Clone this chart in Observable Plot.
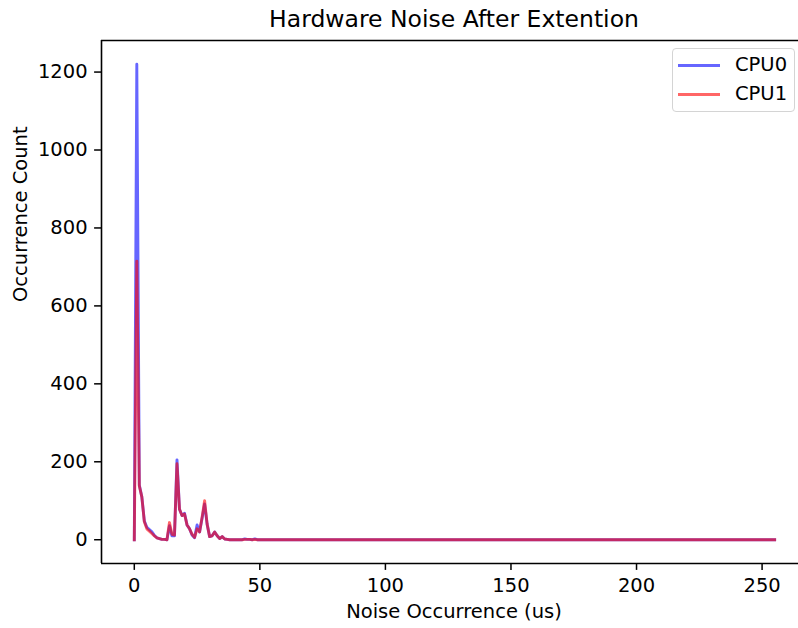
<!DOCTYPE html>
<html>
<head>
<meta charset="utf-8">
<script src="https://cdn.jsdelivr.net/npm/d3@7"></script>
<script src="https://cdn.jsdelivr.net/npm/@observablehq/plot@0.6"></script>
<style>
  html, body { margin: 0; padding: 0; background: #fff; overflow: hidden; }
  #wrap { position: relative; width: 798px; height: 628px; font-family: "DejaVu Sans", sans-serif; }
  #chart svg g[aria-label$="tick"] { stroke-width: 1.5px; }
  #legend { position: absolute; left: 672px; top: 48px; width: 123px; height: 64px; border: 1px solid #d4d4d4; border-radius: 4px; background: rgba(255,255,255,0.8); box-sizing: border-box; }
  .lg-row { position: absolute; left: 0; height: 24px; width: 120px; }
  .lg-line { position: absolute; left: 5px; width: 42px; height: 3px; top: 10.5px; }
  .lg-text { position: absolute; left: 62px; top: 0; font-size: 19.5px; line-height: 24px; color: #000; }
</style>
</head>
<body>
<div id="wrap"><div id="chart"></div><div id="legend"></div></div>
<script>
// Occurrence counts per 1-us bin (bin index = Noise Occurrence in us)
const cpu0 = [
  0,1220,140,110,48,32,26,20,11,5,3,1,1,0,36,10,
  10,205,78,62,68,38,28,12,5,38,20,55,92,40,8,10,
  20,10,3,8,2,1,0,0,0,0,0,0,2,1,1,0,
  2,0,0,0,0,0,0,0,0,0,0,0,0,0,0,0,
  0,0,0,0,0,0,0,0,0,0,0,0,0,0,0,0,
  0,0,0,0,0,0,0,0,0,0,0,0,0,0,0,0,
  0,0,0,0,0,0,0,0,0,0,0,0,0,0,0,0,
  0,0,0,0,0,0,0,0,0,0,0,0,0,0,0,0,
  0,0,0,0,0,0,0,0,0,0,0,0,0,0,0,0,
  0,0,0,0,0,0,0,0,0,0,0,0,0,0,0,0,
  0,0,0,0,0,0,0,0,0,0,0,0,0,0,0,0,
  0,0,0,0,0,0,0,0,0,0,0,0,0,0,0,0,
  0,0,0,0,0,0,0,0,0,0,0,0,0,0,0,0,
  0,0,0,0,0,0,0,0,0,0,0,0,0,0,0,0,
  0,0,0,0,0,0,0,0,0,0,0,0,0,0,0,0,
  0,0,0,0,0,0,0,0,0,0,0,0,0,0,0,0
];
const cpu1 = [
  0,715,138,110,46,28,22,16,10,5,3,1,1,0,44,14,
  12,195,78,62,66,38,28,14,6,28,20,58,100,40,8,10,
  20,10,3,8,2,1,0,0,0,0,0,0,1,1,1,0,
  1,0,0,0,0,0,0,0,0,0,0,0,0,0,0,0,
  0,0,0,0,0,0,0,0,0,0,0,0,0,0,0,0,
  0,0,0,0,0,0,0,0,0,0,0,0,0,0,0,0,
  0,0,0,0,0,0,0,0,0,0,0,0,0,0,0,0,
  0,0,0,0,0,0,0,0,0,0,0,0,0,0,0,0,
  0,0,0,0,0,0,0,0,0,0,0,0,0,0,0,0,
  0,0,0,0,0,0,0,0,0,0,0,0,0,0,0,0,
  0,0,0,0,0,0,0,0,0,0,0,0,0,0,0,0,
  0,0,0,0,0,0,0,0,0,0,0,0,0,0,0,0,
  0,0,0,0,0,0,0,0,0,0,0,0,0,0,0,0,
  0,0,0,0,0,0,0,0,0,0,0,0,0,0,0,0,
  0,0,0,0,0,0,0,0,0,0,0,0,0,0,0,0,
  0,0,0,0,0,0,0,0,0,0,0,0,0,0,0,0
];
const seriesNames = ["CPU0", "CPU1"];
const seriesColors = ["blue", "red"];
const xTicks = [0, 50, 100, 150, 200, 250];
const yTicks = [0, 200, 400, 600, 800, 1000, 1200];
const titleText = "Hardware Noise After Extention";
const xLabel = "Noise Occurrence (us)";
const yLabel = "Occurrence Count";

const xDomain = [-13.06, 264.5];
const yDomain = [-61, 1281];

const rows0 = cpu0.map((v, i) => ({x: i, y: v}));
const rows1 = cpu1.map((v, i) => ({x: i, y: v}));

const lineOpts = {x: "x", y: "y", strokeWidth: 2.9, strokeOpacity: 0.6, strokeLinejoin: "round", strokeLinecap: "square"};

const chart = Plot.plot({
  width: 798,
  height: 628,
  marginLeft: 101,
  marginRight: 0,
  marginTop: 40,
  marginBottom: 65,
  style: {fontFamily: "DejaVu Sans, sans-serif", fontSize: "19.5px", color: "#000", background: "#fff"},
  x: {domain: xDomain, ticks: xTicks, tickSize: 6.9, tickPadding: 8, label: null, tickFormat: d3.format("d")},
  y: {domain: yDomain, ticks: yTicks, tickSize: 6.9, tickPadding: 7, label: null, tickFormat: d3.format("d")},
  marks: [
    Plot.line(rows0, {...lineOpts, stroke: seriesColors[0]}),
    Plot.line(rows1, {...lineOpts, stroke: seriesColors[1]}),
    Plot.ruleX([xDomain[0]], {stroke: "#000", strokeWidth: 1.6}),
    Plot.ruleY([yDomain[0]], {stroke: "#000", strokeWidth: 1.6}),
    Plot.ruleY([yDomain[1]], {stroke: "#000", strokeWidth: 1.6}),
    Plot.text([titleText], {frameAnchor: "top", dx: 4, dy: -30, fontSize: 23.5, fill: "#000"}),
    Plot.text([xLabel], {frameAnchor: "bottom", dx: 4, dy: 54, fontSize: 19.5, fill: "#000"}),
    Plot.text([yLabel], {frameAnchor: "left", dx: -81, rotate: -90, fontSize: 19.5, fill: "#000"})
  ]
});
document.getElementById("chart").appendChild(chart);

const legend = document.getElementById("legend");
seriesNames.forEach((name, i) => {
  const row = document.createElement("div");
  row.className = "lg-row";
  row.style.top = (4 + i * 29) + "px";
  const ln = document.createElement("div");
  ln.className = "lg-line";
  ln.style.background = seriesColors[i];
  ln.style.opacity = 0.6;
  const tx = document.createElement("div");
  tx.className = "lg-text";
  tx.textContent = name;
  row.appendChild(ln);
  row.appendChild(tx);
  legend.appendChild(row);
});
</script>
</body>
</html>
